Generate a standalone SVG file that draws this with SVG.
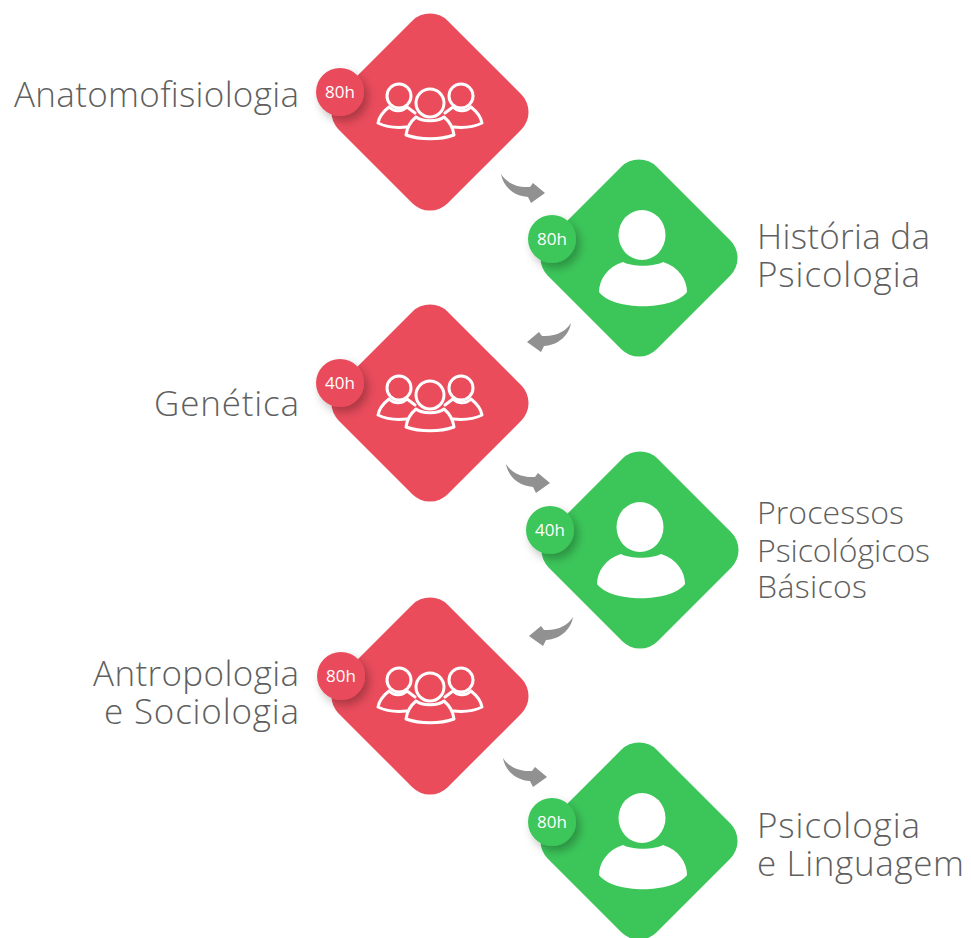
<svg xmlns="http://www.w3.org/2000/svg" xmlns:xlink="http://www.w3.org/1999/xlink" width="971" height="938" viewBox="0 0 971 938">
<style>
.l{font-family:"Open Sans","Liberation Sans",sans-serif;font-weight:300;font-size:35px;fill:#5f5f5f}
.e{text-anchor:end}
.b{font-family:"Open Sans","Liberation Sans",sans-serif;font-weight:500;font-size:17px;fill:#fff;text-anchor:middle}
.r{fill:#ea4c5c}.g{fill:#3cc65a}
.a{fill:#919191}
</style>
<defs>
<filter id="s" x="-40%" y="-40%" width="190%" height="190%"><feDropShadow dx="4" dy="5" stdDeviation="5" flood-color="#000" flood-opacity=".28"/></filter>
<rect id="d" x="-77" y="-77" width="154" height="154" rx="25" transform="rotate(45)"/>
<g id="grp" fill="none" stroke="#fff" stroke-width="3" stroke-linejoin="round" stroke-linecap="round">
<path d="M-41 5C-46 9-51 15-52 21-44 25-32 26-23 25M-41 5C-36 10-28 10-23 5L-15 11"/>
<path d="M41 5C46 9 51 15 52 21 44 25 32 26 23 25M41 5C36 10 28 10 23 5L15 11"/>
<circle cx="-31" cy="-6" r="12"/><circle cx="31" cy="-6" r="12"/>
<circle cx="0" cy="1" r="14"/>
<path d="M-24 33C-23 25-20 20-14 15-8 20 8 20 14 15 20 20 23 25 24 33 10 38-10 38-24 33Z"/>
</g>
<g id="one" fill="#fff"><ellipse cx="-1" cy="-23" rx="23.5" ry="25"/><path d="M-20 4C-10 9 10 9 20 4 36 9 44 22 44 34 30 53-30 53-44 34-44 22-36 9-20 4Z"/></g>
<path id="arr" d="M0 0C5 8 15 14 29 13L32 9 44 19 30 29 27 23C12 22 2 12 0 0Z"/>
</defs>
<g id="connectors" class="a">
<use href="#arr" x="501" y="174"/>
<use href="#arr" transform="translate(571 323) scale(-1 1)"/>
<use href="#arr" x="506" y="464"/>
<use href="#arr" transform="translate(573 617) scale(-1 1)"/>
<use href="#arr" x="503" y="758"/>
</g>
<g id="n1"><use href="#d" x="430" y="112" class="r"/><use href="#grp" x="430" y="102"/><circle cx="340" cy="92" r="24" class="r" filter="url(#s)"/><text x="340" y="98" class="b">80h</text><text x="299" y="107" class="l e" textLength="285">Anatomofisiologia</text></g>
<g id="n2"><use href="#d" x="639" y="258" class="g"/><use href="#one" x="643" y="258"/><circle cx="552" cy="239" r="24" class="g" filter="url(#s)"/><text x="552" y="245" class="b">80h</text><text x="757" y="249" class="l" textLength="173">História da</text><text x="757" y="287" class="l" textLength="163">Psicologia</text></g>
<g id="n3"><use href="#d" x="430" y="403" class="r"/><use href="#grp" x="430" y="394"/><circle cx="340" cy="383" r="24" class="r" filter="url(#s)"/><text x="340" y="389" class="b">40h</text><text x="299" y="416" class="l e" textLength="145">Genética</text></g>
<g id="n4"><use href="#d" x="640" y="550" class="g"/><use href="#one" x="641" y="550"/><circle cx="550" cy="530" r="24" class="g" filter="url(#s)"/><text x="550" y="536" class="b">40h</text><text x="757" y="524" class="l" style="font-size:32px" textLength="147">Processos</text><text x="757" y="562" class="l" style="font-size:32px" textLength="173">Psicológicos</text><text x="757" y="598" class="l" style="font-size:32px" textLength="110">Básicos</text></g>
<g id="n5"><use href="#d" x="430" y="696" class="r"/><use href="#grp" x="430" y="686"/><circle cx="341" cy="676" r="24" class="r" filter="url(#s)"/><text x="341" y="682" class="b">80h</text><text x="299" y="686" class="l e" textLength="206">Antropologia</text><text x="299" y="724" class="l e" textLength="195">e Sociologia</text></g>
<g id="n6"><use href="#d" x="639" y="841" class="g"/><use href="#one" x="643" y="841"/><circle cx="552" cy="822" r="24" class="g" filter="url(#s)"/><text x="552" y="828" class="b">80h</text><text x="757" y="838" class="l" textLength="163">Psicologia</text><text x="757" y="876" class="l" textLength="207">e Linguagem</text></g>
</svg>
